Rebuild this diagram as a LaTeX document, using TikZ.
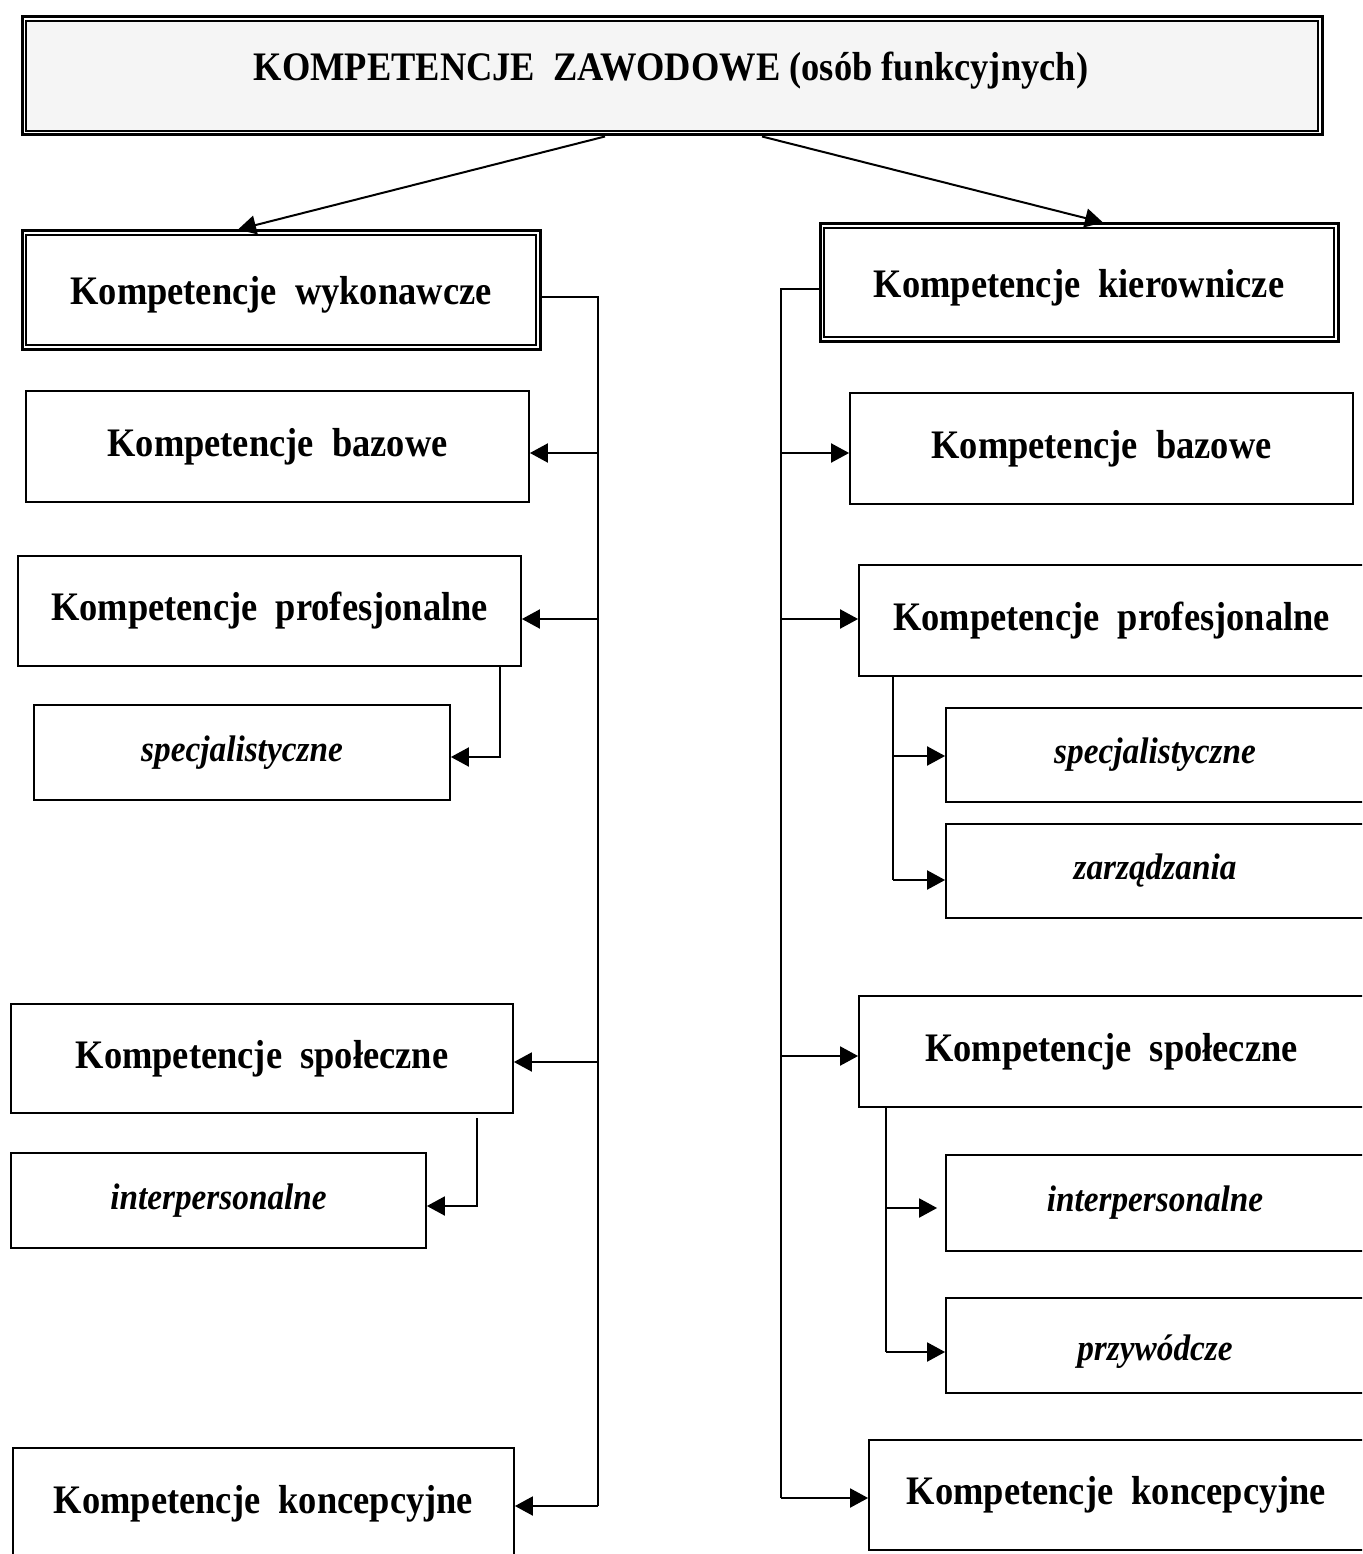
\documentclass[tikz,border=0pt]{standalone}
\usepackage{fontspec}
\setmainfont{Liberation Serif}[FakeStretch=0.9]
\usetikzlibrary{arrows.meta}

% place a rectangular node given its corner coordinates
\newcommand\placebox[7]{%
  \pgfmathsetmacro\boxwd{#5-#3}%
  \pgfmathsetmacro\boxht{#6-#4}%
  \node[#1,minimum width=\boxwd pt,minimum height=\boxht pt] (#2)
    at ({(#3+#5)/2},{(#4+#6)/2}) {#7};}
% inner frame of a double-framed node
\newcommand\innerframe[2][]{%
  \draw[line width=2pt,#1] ([shift={(5.5,5.5)}]#2.north west) rectangle ([shift={(-5.5,-5.5)}]#2.south east);}
% lower a label without changing its reported size
\newcommand\lowertext[2]{\raisebox{-#1}[\height][\depth]{#2}}

\begin{document}
\begin{tikzpicture}[x=1pt,y=-1pt,
  box/.style={draw,line width=1.8pt,inner sep=0pt,
    font=\fontsize{40.5}{44}\selectfont\bfseries},
  subbox/.style={box,font=\fontsize{37}{40}\selectfont\bfseries\itshape},
  dblbox/.style={box,line width=3pt},
  conn/.style={line width=2pt},
  arr/.style={conn,-{Triangle[length=18pt,width=19pt]}},
]
\useasboundingbox (0,0) rectangle (1362,1554);
\clip (0,0) rectangle (1362,1554);

% top box: frame, shaded inner panel, title
\placebox{dblbox}{top}{22}{17}{1322}{135}{}
\innerframe[fill=black!4]{top}
\node[font=\fontsize{40.5}{44}\selectfont\bfseries] (title) at (671,71)
  {KOMPETENCJE~~ZAWODOWE (osób funkcyjnych)};

% left column
\placebox{dblbox}{wyk}{22}{231}{540}{349}{\lowertext{5pt}{Kompetencje~~wykonawcze}}
\innerframe{wyk}
\placebox{box}{lbaz}{26}{391}{529}{502}{Kompetencje~~bazowe}
\placebox{box}{lprof}{18}{556}{521}{666}{Kompetencje~~profesjonalne}
\placebox{subbox}{lspec}{34}{705}{450}{800}{specjalistyczne}
\placebox{box}{lspol}{11}{1004}{513}{1113}{Kompetencje~~społeczne}
\placebox{subbox}{lint}{11}{1153}{426}{1248}{interpersonalne}
\placebox{box}{lkonc}{13}{1448}{514}{1560}{Kompetencje~~koncepcyjne}

% right column
\placebox{dblbox}{kier}{820}{224}{1338}{341}{\lowertext{5pt}{Kompetencje~~kierownicze}}
\innerframe{kier}
\placebox{box}{rbaz}{850}{393}{1353}{504}{Kompetencje~~bazowe}
\placebox{box}{rprof}{859}{565}{1364}{676}{Kompetencje~~profesjonalne}
\placebox{subbox}{rspec}{946}{708}{1364}{802}{specjalistyczne}
\placebox{subbox}{rzarz}{946}{824}{1364}{918}{zarządzania}
\placebox{box}{rspol}{859}{996}{1364}{1107}{Kompetencje~~społeczne}
\placebox{subbox}{rint}{946}{1155}{1364}{1251}{interpersonalne}
\placebox{subbox}{rprzy}{946}{1298}{1364}{1393}{\lowertext{6pt}{przywódcze}}
\placebox{box}{rkonc}{869}{1440}{1364}{1550}{Kompetencje~~koncepcyjne}

% routing points
\coordinate (A1) at (605,0);
\coordinate (A2) at (238,0);
\coordinate (B1) at (762,0);
\coordinate (B2) at (1103,0);
\coordinate (LT) at (598,297);
\coordinate (LB) at (598,1506);
\coordinate (L1) at (598,453);
\coordinate (L2) at (598,619);
\coordinate (L3) at (598,1062);
\coordinate (LP) at (500,757);
\coordinate (LS0) at (477,1118);
\coordinate (LS) at (477,1206);
\coordinate (RT) at (781,289);
\coordinate (RB) at (781,1498);
\coordinate (R1) at (781,453);
\coordinate (R2) at (781,619);
\coordinate (R3) at (781,1056);
\coordinate (RP1) at (893,756);
\coordinate (RP2) at (893,880);
\coordinate (RS1) at (886,1208);
\coordinate (RS2) at (886,1352);

% from the top box
\draw[arr] (top.south -| A1) -- (wyk.north -| A2);
\draw[arr] (top.south -| B1) -- (kier.north -| B2);

% left trunk
\draw[conn] (wyk.east |- LT) -- (LT) -- (LB);
\draw[arr] (L1) -- (lbaz.east |- L1);
\draw[arr] (L2) -- (lprof.east |- L2);
\draw[arr] (L3) -- (lspol.east |- L3);
\draw[arr] (LB) -- (lkonc.east |- LB);
\draw[arr] (lprof.south -| LP) -- (LP) -- (lspec.east |- LP);
\draw[arr] (LS0) -- (LS) -- (lint.east |- LS);

% right trunk
\draw[conn] (kier.west |- RT) -- (RT) -- (RB);
\draw[arr] (R1) -- (rbaz.west |- R1);
\draw[arr] (R2) -- (rprof.west |- R2);
\draw[arr] (R3) -- (rspol.west |- R3);
\draw[arr] (RB) -- (rkonc.west |- RB);
\draw[conn] (rprof.south -| RP1) -- (RP2);
\draw[arr] (RP1) -- (rspec.west |- RP1);
\draw[arr] (RP2) -- (rzarz.west |- RP2);
\draw[conn] (rspol.south -| RS1) -- (RS2);
\draw[arr] (RS1) -- ([xshift=-8pt]rint.west |- RS1);
\draw[arr] (RS2) -- (rprzy.west |- RS2);
\end{tikzpicture}
\end{document}
